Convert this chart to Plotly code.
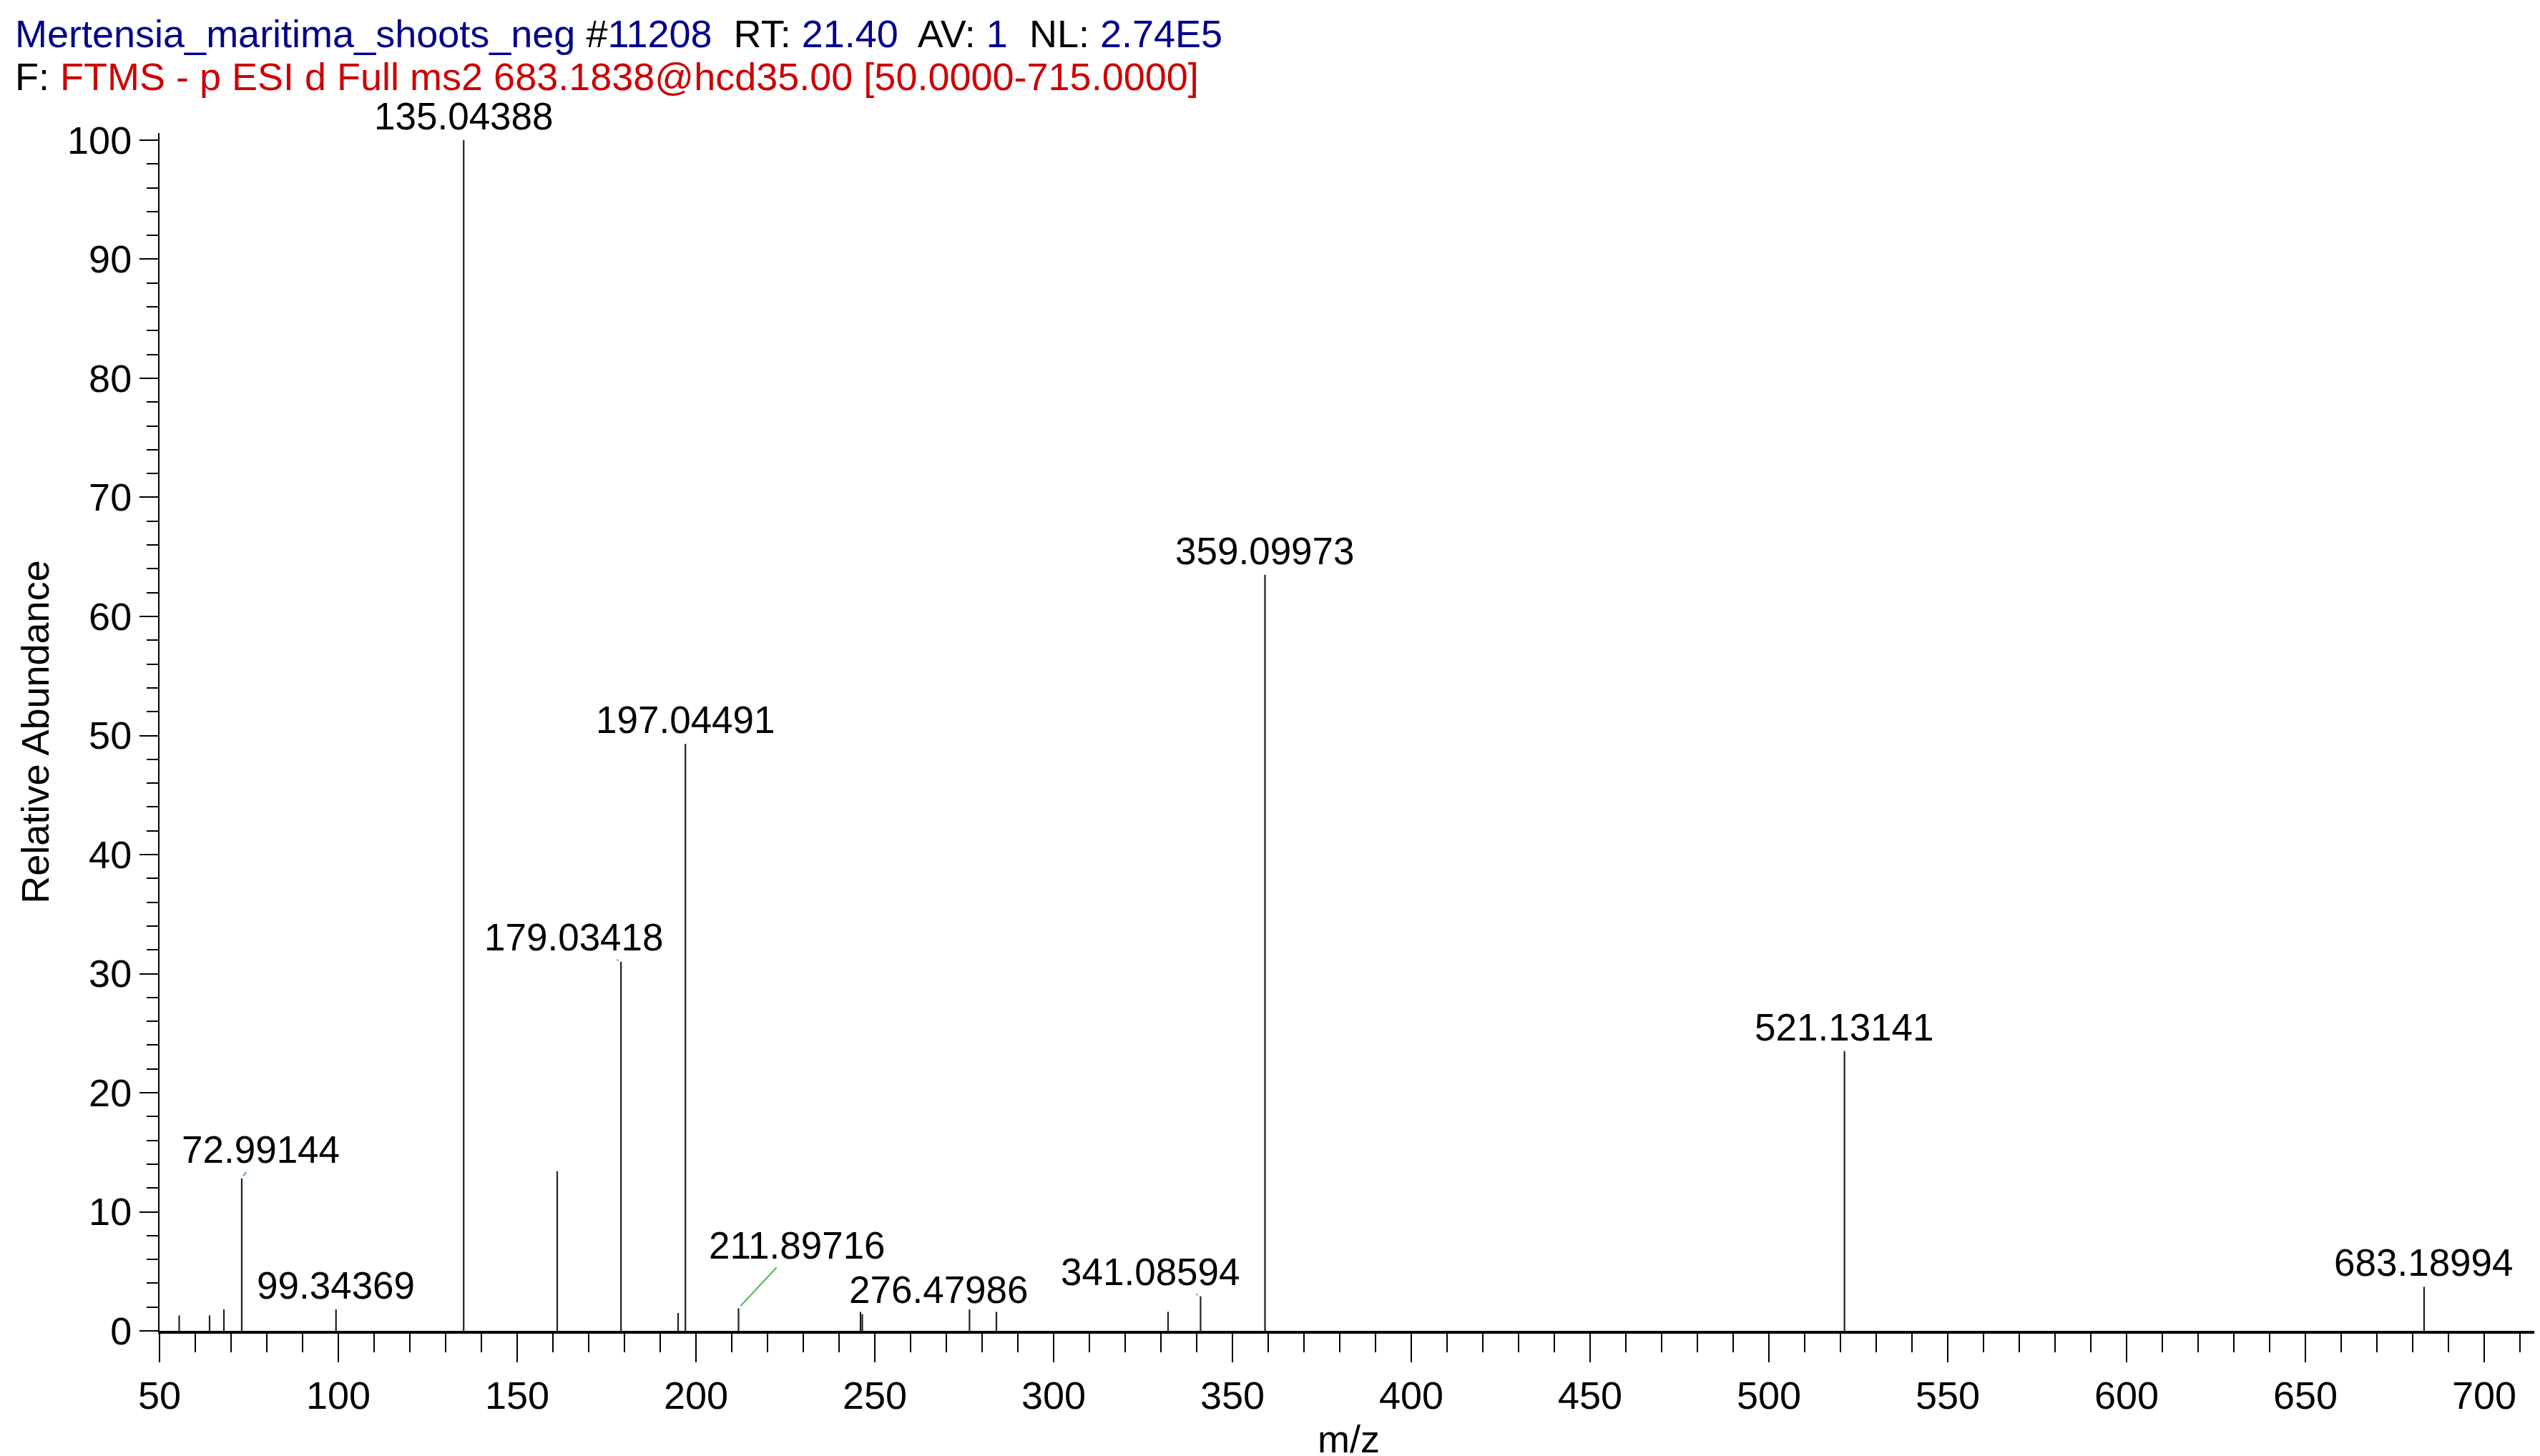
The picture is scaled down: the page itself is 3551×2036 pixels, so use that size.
import plotly.graph_objects as go

mz = [55.5, 64.0, 68.0, 72.99144, 99.34369, 135.04388, 161.2, 179.03418, 195.0, 197.04491,
      211.89716, 246.0, 246.5, 276.47986, 284.0, 332.0, 341.08594, 359.09973, 521.13141, 683.18994]
ab = [1.3, 1.3, 1.8, 12.8, 1.8, 100.0, 13.4, 31.0, 1.5, 49.3,
      1.9, 1.6, 1.4, 1.8, 1.6, 1.6, 2.9, 63.5, 23.5, 3.7]
labels = {72.99144: "72.99144", 99.34369: "99.34369", 135.04388: "135.04388", 179.03418: "179.03418",
          197.04491: "197.04491", 211.89716: "211.89716", 276.47986: "276.47986", 341.08594: "341.08594",
          359.09973: "359.09973", 521.13141: "521.13141", 683.18994: "683.18994"}
offsets = {72.99144: (27, -40), 179.03418: (-66, -34), 211.89716: (82, -88),
           276.47986: (-43, -28), 341.08594: (-70, -34)}

xs, ys = [], []
for m, a in zip(mz, ab):
    xs += [m, m, None]
    ys += [0, a, None]

fig = go.Figure()
fig.add_trace(go.Scatter(x=xs, y=ys, mode="lines", line=dict(color="#202020", width=2.2),
                         hoverinfo="skip", showlegend=False))

F = "Liberation Sans, Arial, sans-serif"
FS = 53
ann = []
for m, a in zip(mz, ab):
    if m not in labels:
        continue
    if m in offsets:
        ax, ay = offsets[m]
        ann.append(dict(x=m, y=a, text=labels[m], showarrow=True, arrowhead=0, arrowwidth=2,
                        arrowcolor="#44bb44", ax=ax, ay=ay, standoff=4,
                        font=dict(family=F, size=FS, color="black")))
    else:
        ann.append(dict(x=m, y=a, text=labels[m], showarrow=False, yanchor="bottom", yshift=2,
                        font=dict(family=F, size=FS, color="black")))

B = "#00008B"; R = "#CC0000"
T, BM = 178, 162
H = 2036 - T - BM
ann.append(dict(xref="paper", yref="paper", x=-0.0614, y=(2036 - BM - 5) / H, xanchor="left", yanchor="top",
                showarrow=False, align="left", font=dict(family=F, size=54, color="black"),
                text=(f"<span style='color:{B}'>Mertensia_maritima_shoots_neg</span> #<span style='color:{B}'>11208</span>"
                      f"  RT: <span style='color:{B}'>21.40</span>  AV: <span style='color:{B}'>1</span>"
                      f"  NL: <span style='color:{B}'>2.74E5</span>")))
ann.append(dict(xref="paper", yref="paper", x=-0.0614, y=(2036 - BM - 66) / H, xanchor="left", yanchor="top",
                showarrow=False, align="left", font=dict(family=F, size=54, color="black"),
                text=f"F: <span style='color:{R}'>FTMS - p ESI d Full ms2 683.1838@hcd35.00 [50.0000-715.0000]</span>"))

fig.update_layout(
    width=3551, height=2036, paper_bgcolor="white", plot_bgcolor="white",
    margin=dict(l=215, r=11, t=T, b=BM),
    annotations=ann,
    font=dict(family=F, size=FS, color="black"),
    xaxis=dict(range=[50, 715], tickvals=list(range(50, 701, 50)), ticks="outside", ticklen=40,
               tickwidth=2, tickcolor="black", showline=True, linecolor="black", linewidth=4,
               showgrid=False, zeroline=False, tickfont=dict(size=54),
               minor=dict(dtick=10, tick0=50, ticks="outside", ticklen=26, tickwidth=2, tickcolor="black"),
               title=dict(text="m/z", font=dict(size=54), standoff=14)),
    yaxis=dict(range=[0, 100.6], tickvals=list(range(0, 101, 10)), ticks="outside", ticklen=26,
               tickwidth=2, tickcolor="black", showline=True, linecolor="black", linewidth=2,
               showgrid=False, zeroline=False, tickfont=dict(size=54),
               minor=dict(dtick=2, ticks="outside", ticklen=16, tickwidth=2, tickcolor="black"),
               title=dict(text="Relative Abundance", font=dict(size=54), standoff=8)),
)
fig.write_html("out.html")
